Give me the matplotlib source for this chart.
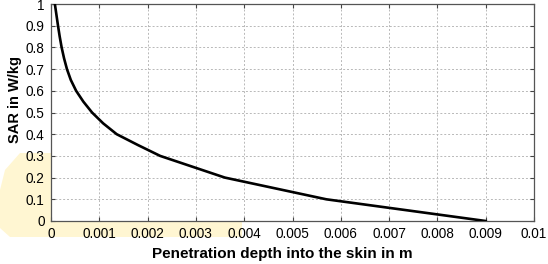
import matplotlib
matplotlib.use("Agg")
import matplotlib.pyplot as plt
from matplotlib.patches import Polygon
import numpy as np

plt.rcParams["font.family"] = ["Liberation Sans", "DejaVu Sans"]

# SAR curve
depth = [0.00008, 0.000145, 0.00018, 0.00022, 0.00027, 0.00033, 0.00041, 0.00052, 0.00067,
         0.00085, 0.00108, 0.00136, 0.0018, 0.00226, 0.0036, 0.0057, 0.009]
sar = [1.0, 0.9, 0.85, 0.8, 0.75, 0.7, 0.65, 0.6, 0.55,
       0.5, 0.45, 0.4, 0.35, 0.3, 0.2, 0.1, 0.0]

xticks = np.arange(0, 0.0101, 0.001)
xtick_labels = ["0", "0.001", "0.002", "0.003", "0.004", "0.005", "0.006", "0.007", "0.008", "0.009", "0.01"]
yticks = np.arange(0, 1.01, 0.1)
ytick_labels = ["0", "0.1", "0.2", "0.3", "0.4", "0.5", "0.6", "0.7", "0.8", "0.9", "1"]

W, H = 548, 264
fig = plt.figure(figsize=(W / 100, H / 100), dpi=100)
fig.patch.set_facecolor("white")

# pale yellow highlight behind the lower-left corner
blob_px = [(20, 153), (51, 153), (51, 221), (242, 221), (242, 237), (10, 237),
           (0, 228), (0, 190), (5, 170)]
blob = Polygon([(x / W, 1 - y / H) for x, y in blob_px], closed=True,
               transform=fig.transFigure, facecolor="#fff6d2", edgecolor="none", zorder=-5)
fig.patches.append(blob)

ax = fig.add_axes([51 / W, 1 - 221 / H, (534 - 51) / W, (221 - 4) / H])
ax.set_zorder(1)
ax.set_facecolor("white")
ax.plot(depth, sar, color="black", linewidth=1.9, zorder=3)

ax.set_xlim(0, 0.01)
ax.set_ylim(0, 1)
ax.set_xticks(xticks)
ax.set_xticklabels(xtick_labels)
ax.set_yticks(yticks)
ax.set_yticklabels(ytick_labels)
ax.grid(True, color="#b8b8b8", linestyle=(0, (2, 2)), linewidth=0.7)
ax.tick_params(direction="in", length=3, width=0.8, top=True, right=True,
               labelsize=9.8, colors="#444444", labelcolor="black", pad=4.5)

for spine in ax.spines.values():
    spine.set_color("#555555")
    spine.set_linewidth(0.9)

ax.set_xlabel("Penetration depth into the skin in m", fontsize=11, fontweight="bold",
              labelpad=4, x=0.478)
ax.set_ylabel("SAR in W/kg", fontsize=10.5, fontweight="bold", labelpad=3, y=0.562)

fig.savefig("out.png", dpi=100, facecolor="white")
